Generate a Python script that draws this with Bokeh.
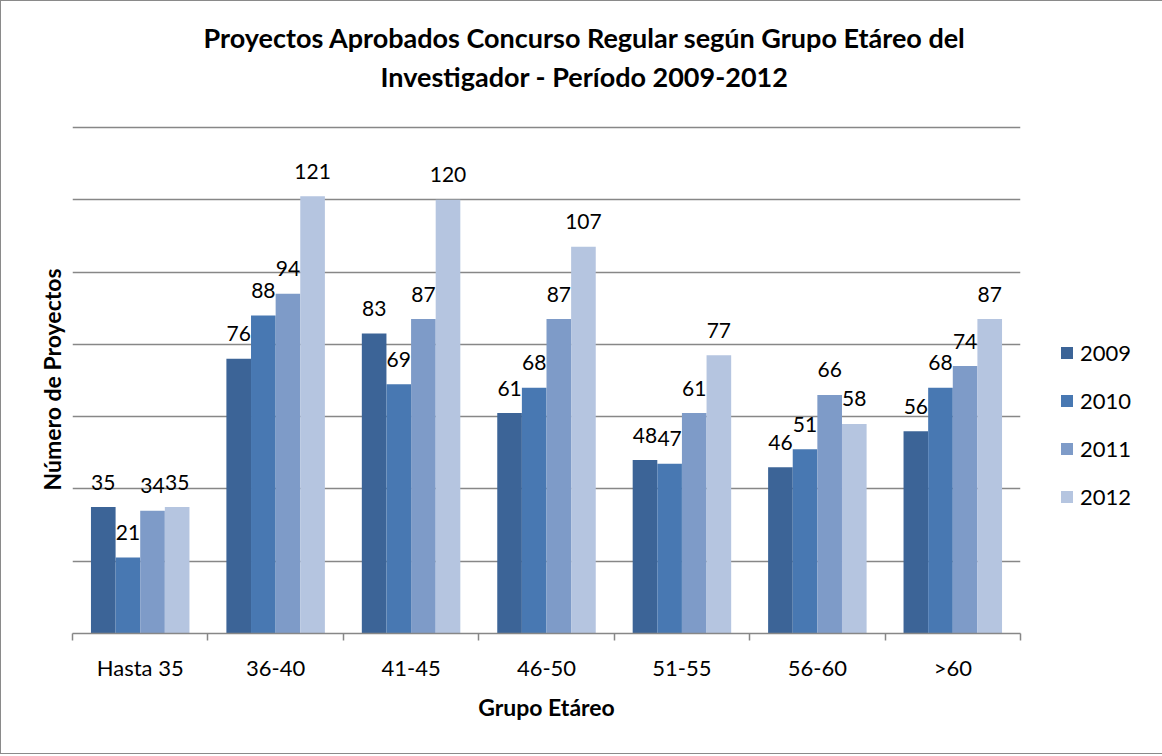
from bokeh.plotting import figure
from bokeh.models import Range1d, FixedTicker, Legend, LegendItem, Title, ColumnDataSource
from bokeh.transform import dodge
from bokeh.core.properties import value
from bokeh.embed import file_html
from bokeh.resources import INLINE

categories = ["Hasta 35", "36-40", "41-45", "46-50", "51-55", "56-60", ">60"]
years = ["2009", "2010", "2011", "2012"]
v2009 = [35, 76, 83, 61, 48, 46, 56]
v2010 = [21, 88, 69, 68, 47, 51, 68]
v2011 = [34, 94, 87, 87, 61, 66, 74]
v2012 = [35, 121, 120, 107, 77, 58, 87]
colors = ["#3C6497", "#4878B2", "#7E9BC8", "#B5C5E0"]
title_lines = ["Proyectos Aprobados Concurso Regular según Grupo Etáreo del",
               "Investigador - Período 2009-2012"]
y_title = "Número de Proyectos"
x_title = "Grupo Etáreo"

FONT = "Lato"
n = len(categories)
centers = [i + 0.5 for i in range(n)]
bounds = [float(i) for i in range(n + 1)]

src = ColumnDataSource(dict(x=centers, v2009=v2009, v2010=v2010, v2011=v2011, v2012=v2012,
                            t2009=[str(v) for v in v2009], t2010=[str(v) for v in v2010],
                            t2011=[str(v) for v in v2011], t2012=[str(v) for v in v2012]))

p = figure(frame_width=948, frame_height=537, x_range=Range1d(0, n), y_range=Range1d(0, 148.6),
           output_backend="svg", toolbar_location=None,
           min_border_left=71, min_border_right=137, min_border_top=95, min_border_bottom=120)
p.outline_line_color = None
p.styles = {"border": "1.5px solid #8a8a8a"}

bw = 1.0 / (len(years) + 1.5)
renderers = []
for i, (yr, col) in enumerate(zip(years, colors)):
    off = (i - 1.5) * bw
    r = p.vbar(x=dodge("x", off, range=p.x_range), top="v" + yr, width=bw, source=src,
               fill_color=col, line_color=None)
    renderers.append(r)
    p.text(x=dodge("x", off, range=p.x_range), y="v" + yr, text="t" + yr, source=src,
           text_align="center", text_baseline="alphabetic", y_offset=-25,
           text_font=value(FONT), text_font_size="21px", text_color="#000000")

# grid
p.xgrid.visible = False
p.ygrid.ticker = FixedTicker(ticks=list(range(0, 141, 20)))
p.ygrid.grid_line_color = "#878787"
p.ygrid.grid_line_width = 1.5

# y axis hidden; its title drawn as a left Title
p.yaxis.visible = False
p.add_layout(Title(text=y_title, align="left", offset=143, standoff=14,
                   text_font=FONT, text_font_style="bold", text_font_size="23px",
                   text_color="#000000"), "left")

# x axis
p.xaxis.ticker = FixedTicker(ticks=centers, minor_ticks=bounds)
p.xaxis.major_label_overrides = {c: lab for c, lab in zip(centers, categories)}
p.xaxis.major_tick_line_color = None
p.xaxis.major_tick_out = 0
p.xaxis.major_tick_in = 0
p.xaxis.minor_tick_out = 7
p.xaxis.minor_tick_in = 0
p.xaxis.minor_tick_line_color = "#878787"
p.xaxis.minor_tick_line_width = 1.5
p.xaxis.axis_line_color = "#878787"
p.xaxis.axis_line_width = 1.5
p.xaxis.major_label_text_font = FONT
p.xaxis.major_label_text_font_size = "22px"
p.xaxis.major_label_text_color = "#000000"
p.xaxis.major_label_standoff = 13
p.xaxis.axis_label = x_title
p.xaxis.axis_label_text_font = FONT
p.xaxis.axis_label_text_font_style = "bold"
p.xaxis.axis_label_text_font_size = "23px"
p.xaxis.axis_label_text_color = "#000000"
p.xaxis.axis_label_standoff = 9

# legend
legend = Legend(items=[LegendItem(label=yr, renderers=[r]) for yr, r in zip(years, renderers)],
                location=(39, 123), glyph_width=15, glyph_height=15, label_height=26,
                spacing=21, padding=0, margin=0, label_standoff=6,
                label_text_font=FONT, label_text_font_size="22px", label_text_color="#000000",
                border_line_color=None, background_fill_alpha=0)
p.add_layout(legend, "right")

# title (two lines, nearest line added first)
offsets = [131, 308]
standoffs = [0, 8]
for k in (1, 0):
    p.add_layout(Title(text=title_lines[k], align="left", offset=offsets[k], standoff=standoffs[k],
                       text_font=FONT, text_font_style="bold", text_font_size="27px",
                       text_color="#000000"), "above")

open("out.html", "w").write(file_html(p, INLINE))
